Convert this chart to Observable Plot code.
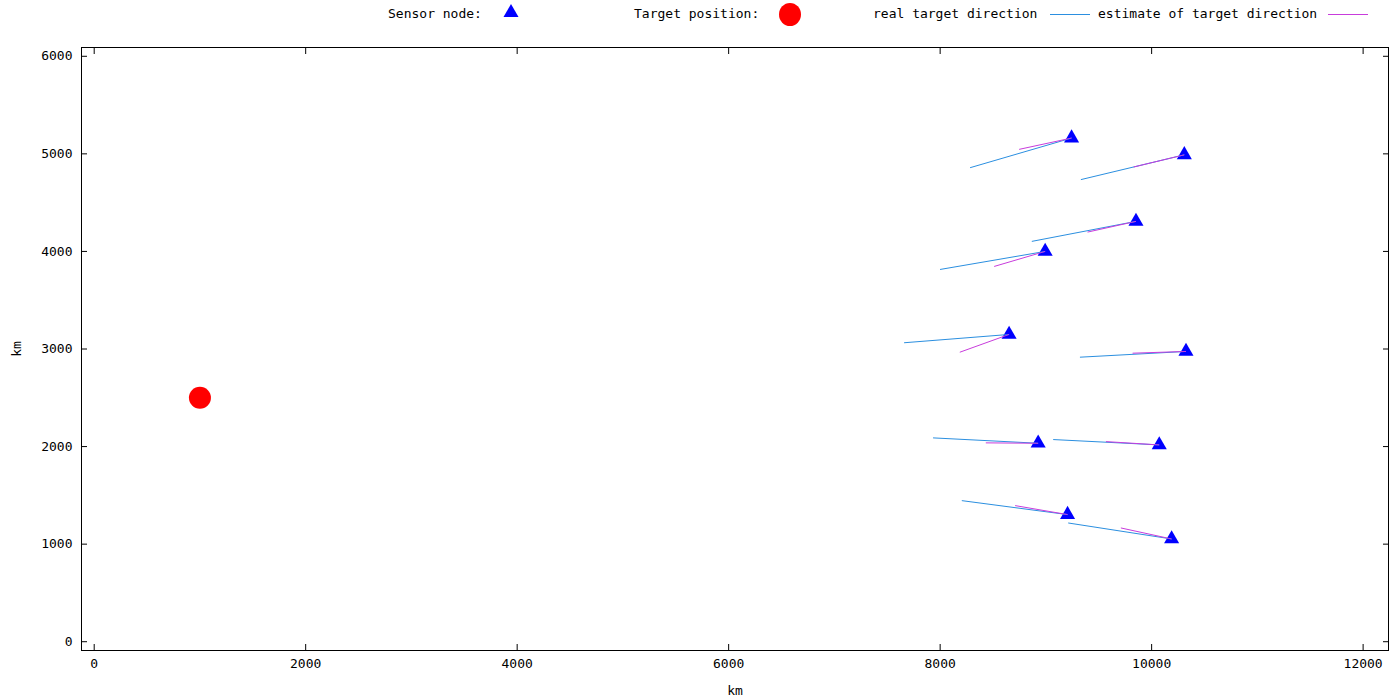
<!DOCTYPE html>
<html><head><meta charset="utf-8">
<script src="https://cdn.jsdelivr.net/npm/d3@7"></script>
<script src="https://cdn.jsdelivr.net/npm/@observablehq/plot@0.6"></script>
<style>
body{margin:0;background:#fff;font-family:"DejaVu Sans Mono",monospace;font-size:13px;color:#000;}
#legend{position:relative;width:1400px;height:30px;}
#legend .t{position:absolute;top:6px;line-height:16px;white-space:pre;}
#legend svg{position:absolute;}
#legend .ln{position:absolute;top:14px;width:40px;height:1px;}
</style></head><body>
<div id="legend">
  <span class="t" style="left:388px">Sensor node:</span>
  <svg style="left:503px;top:4px" width="16" height="15"><path d="M8,0 L15.5,13 L0.5,13 Z" fill="#0000ff"/></svg>
  <span class="t" style="left:634px">Target position:</span>
  <svg style="left:779px;top:3px" width="22" height="23"><ellipse cx="11" cy="11.5" rx="11" ry="11.5" fill="#ff0000"/></svg>
  <span class="t" style="left:873px">real target direction</span>
  <div class="ln" style="left:1050px;background:#2b8fe0"></div>
  <span class="t" style="left:1098px">estimate of target direction</span>
  <div class="ln" style="left:1328px;background:#c83cdc"></div>
</div>
<div id="chart"></div>
<script>
// Sensor node positions (km)
const sensorX = [9243, 10309, 9852, 8993, 8652, 10325, 8927, 10072, 9205, 10189];
const sensorY = [5162, 4990, 4308, 4000, 3149, 2975, 2034, 2017, 1303, 1053];
// Far end of the real target direction segment (km)
const realEndX = [8283, 9331, 8867, 7999, 7659, 9322, 7933, 9069, 8205, 9211];
const realEndY = [4858, 4736, 4103, 3815, 3064, 2916, 2089, 2072, 1446, 1217];
// Far end of the estimated target direction segment (km)
const estEndX = [8747, 9830, 9394, 8511, 8186, 9820, 8432, 9568, 8709, 9709];
const estEndY = [5046, 4865, 4198, 3846, 2967, 2957, 2038, 2051, 1395, 1166];
// Target position (km)
const targetX = [1000];
const targetY = [2500];
// Tick values
const xTicks = [0, 2000, 4000, 6000, 8000, 10000, 12000];
const yTicks = [0, 1000, 2000, 3000, 4000, 5000, 6000];

const sensors = sensorX.map((x, i) => ({
  x, y: sensorY[i], rx: realEndX[i], ry: realEndY[i], ex: estEndX[i], ey: estEndY[i]
}));
const targets = targetX.map((x, i) => ({x, y: targetY[i]}));
const blank = () => "";
const plain = d => String(d);

const chart = Plot.plot({
  width: 1400, height: 670,
  marginLeft: 81, marginRight: 12, marginTop: 17, marginBottom: 50,
  style: {fontFamily: "DejaVu Sans Mono, monospace", fontSize: "13px", color: "#000", background: "#fff"},
  x: {domain: [-120, 12240]},
  y: {domain: [-90, 6090]},
  marks: [
    Plot.axisX(xTicks, {anchor: "bottom", tickSize: 0, tickPadding: 8, tickFormat: plain, label: "km", labelAnchor: "center", labelOffset: 44, labelArrow: "none"}),
    Plot.axisX(xTicks, {anchor: "bottom", tickSize: -6, tickFormat: blank, label: null}),
    Plot.axisX(xTicks, {anchor: "top", tickSize: -6, tickFormat: blank, label: null}),
    Plot.axisY(yTicks, {anchor: "left", tickSize: 0, tickPadding: 9, tickFormat: plain, label: "km", labelAnchor: "center", labelOffset: 70, labelArrow: "none"}),
    Plot.axisY(yTicks, {anchor: "left", tickSize: -6, tickFormat: blank, label: null}),
    Plot.axisY(yTicks, {anchor: "right", tickSize: -6, tickFormat: blank, label: null}),
    Plot.frame({stroke: "#000", strokeWidth: 1}),
    Plot.dot(sensors, {x: "x", y: "y", symbol: "triangle", r: 5.6, fill: "#0000ff", stroke: "none"}),
    Plot.dot(targets, {x: "x", y: "y", r: 11, fill: "#ff0000", stroke: "none"}),
    Plot.link(sensors, {x1: "x", y1: "y", x2: "rx", y2: "ry", stroke: "#2b8fe0", strokeWidth: 1}),
    Plot.link(sensors, {x1: "x", y1: "y", x2: "ex", y2: "ey", stroke: "#c83cdc", strokeWidth: 1})
  ]
});
document.getElementById("chart").appendChild(chart);
</script>
</body></html>
